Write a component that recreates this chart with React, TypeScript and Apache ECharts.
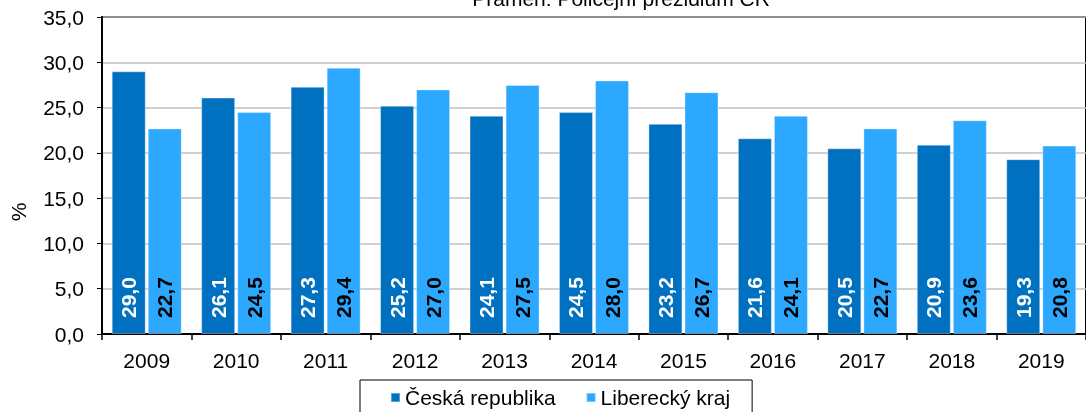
import React, { useEffect, useRef } from "react";
import * as echarts from "echarts";

const years = ["2009", "2010", "2011", "2012", "2013", "2014", "2015", "2016", "2017", "2018", "2019"];
const ceskaRepublika = [29.0, 26.1, 27.3, 25.2, 24.1, 24.5, 23.2, 21.6, 20.5, 20.9, 19.3];
const libereckyKraj = [22.7, 24.5, 29.4, 27.0, 27.5, 28.0, 26.7, 24.1, 22.7, 23.6, 20.8];
const seriesNames = ["Česká republika", "Liberecký kraj"];
const sourceText = "Pramen: Policejní prezidium ČR";
const yUnit = "%";

const FONT = "Arial, 'Liberation Sans', sans-serif";
const fmt = (v: number) => v.toFixed(1).replace(".", ",");

export default function App() {
  const ref = useRef<HTMLDivElement>(null);
  useEffect(() => {
    if (!ref.current) return;
    const chart = echarts.init(ref.current, undefined, { renderer: "svg" });
    const labelBase = {
      show: true,
      position: "insideBottom" as const,
      rotate: 90,
      align: "left" as const,
      verticalAlign: "middle" as const,
      distance: 16,
      fontSize: 21,
      fontWeight: "bold" as const,
      fontFamily: FONT,
      formatter: (p: any) => fmt(p.value),
    };
    chart.setOption({
      animation: false,
      textStyle: { fontFamily: FONT },
      grid: {
        left: 102,
        top: 17,
        bottom: 78,
        right: -12,
        show: true,
        borderColor: "#000",
        borderWidth: 2,
        containLabel: false,
      },
      legend: {
        data: seriesNames,
        left: 360,
        top: 380,
        icon: "rect",
        itemWidth: 9,
        itemHeight: 9,
        itemGap: 30,
        padding: [7, 22, 20, 30],
        borderColor: "#000",
        borderWidth: 1,
        textStyle: { fontSize: 21, color: "#000", fontFamily: FONT },
      },
      xAxis: {
        type: "category",
        data: years,
        axisLine: { lineStyle: { color: "#000", width: 2 } },
        axisTick: { show: true, length: 6, lineStyle: { color: "#000", width: 1.5 } },
        axisLabel: { fontSize: 21, color: "#000", margin: 16, fontFamily: FONT },
      },
      yAxis: {
        type: "value",
        min: 0,
        max: 35,
        interval: 5,
        axisLine: { show: true, lineStyle: { color: "#000", width: 2 } },
        axisTick: { show: true, length: 5, lineStyle: { color: "#000", width: 1 } },
        axisLabel: { fontSize: 21, color: "#000", margin: 18, fontFamily: FONT, formatter: (v: number) => fmt(v) },
        splitLine: { lineStyle: { color: "#c0c0c0", width: 1.5 } },
      },
      graphic: [
        {
          type: "text",
          x: 621,
          y: 9,
          style: {
            text: sourceText,
            fontSize: 21,
            fontFamily: FONT,
            fill: "#000",
            textAlign: "center",
            textVerticalAlign: "bottom",
          },
        },
        {
          type: "text",
          x: 18,
          y: 212,
          rotation: Math.PI / 2,
          style: {
            text: yUnit,
            fontSize: 21,
            fontFamily: FONT,
            fill: "#000",
            textAlign: "center",
            textVerticalAlign: "middle",
          },
        },
      ],
      series: [
        {
          name: seriesNames[0],
          type: "bar",
          data: ceskaRepublika,
          barWidth: 34,
          barGap: "6%",
          itemStyle: { color: "#0070C0", borderColor: "rgba(255,255,255,0.35)", borderWidth: 1 },
          label: { ...labelBase, color: "#fff" },
        },
        {
          name: seriesNames[1],
          type: "bar",
          data: libereckyKraj,
          barWidth: 34,
          barGap: "6%",
          itemStyle: { color: "#2DA8FF", borderColor: "rgba(255,255,255,0.35)", borderWidth: 1 },
          label: { ...labelBase, color: "#000" },
        },
      ],
    });
    return () => chart.dispose();
  }, []);
  return (
    <div
      ref={ref}
      style={{ position: "fixed", left: 0, top: 0, width: 1086, height: 412 }}
    />
  );
}
